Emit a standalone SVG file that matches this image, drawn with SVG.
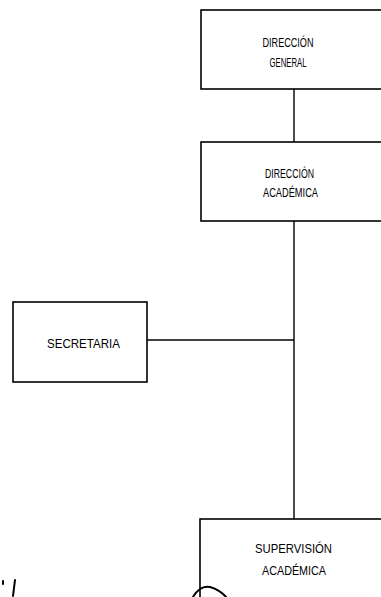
<svg xmlns="http://www.w3.org/2000/svg" width="381" height="597" viewBox="0 0 381 597">
<style>
.box{fill:#fff;stroke:#000;stroke-width:1.6}
.ln{stroke:#000;stroke-width:1.4;fill:none}
.t{font-family:"Liberation Sans",Arial,sans-serif;font-size:13px;fill:#000;text-anchor:middle}
.mark{stroke:#000;stroke-width:2;fill:none;stroke-linecap:round}
</style>
<rect width="381" height="597" fill="#fff"/>
<g id="connectors">
<line class="ln" x1="294" y1="89" x2="294" y2="142"/>
<line class="ln" x1="294" y1="221" x2="294" y2="519"/>
<line class="ln" x1="147" y1="340" x2="294" y2="340"/>
</g>
<g id="direccion-general">
<rect class="box" x="201" y="10" width="190" height="79"/>
<text class="t" x="288" y="47" textLength="51" lengthAdjust="spacingAndGlyphs">DIRECCIÓN</text>
<text class="t" x="288" y="67" textLength="37" lengthAdjust="spacingAndGlyphs">GENERAL</text>
</g>
<g id="direccion-academica">
<rect class="box" x="201" y="142" width="190" height="79"/>
<text class="t" x="289.5" y="178" textLength="49" lengthAdjust="spacingAndGlyphs">DIRECCIÓN</text>
<text class="t" x="290.5" y="197" textLength="55" lengthAdjust="spacingAndGlyphs">ACADÉMICA</text>
</g>
<g id="secretaria">
<rect class="box" x="13" y="302" width="134" height="80"/>
<text class="t" x="83.5" y="348" textLength="73" lengthAdjust="spacingAndGlyphs">SECRETARIA</text>
</g>
<g id="supervision-academica">
<rect class="box" x="200" y="519" width="191" height="90"/>
<text class="t" x="293.5" y="553" textLength="77" lengthAdjust="spacingAndGlyphs">SUPERVISIÓN</text>
<text class="t" x="294" y="575" textLength="64" lengthAdjust="spacingAndGlyphs">ACADÉMICA</text>
</g>
<g id="marks">
<path class="mark" d="M15 580 L13 596"/>
<path class="mark" d="M3 581 L3 584"/>
<path class="mark" d="M193 597 Q200 585 210 587 Q220 590 226 597"/>
</g>
</svg>
